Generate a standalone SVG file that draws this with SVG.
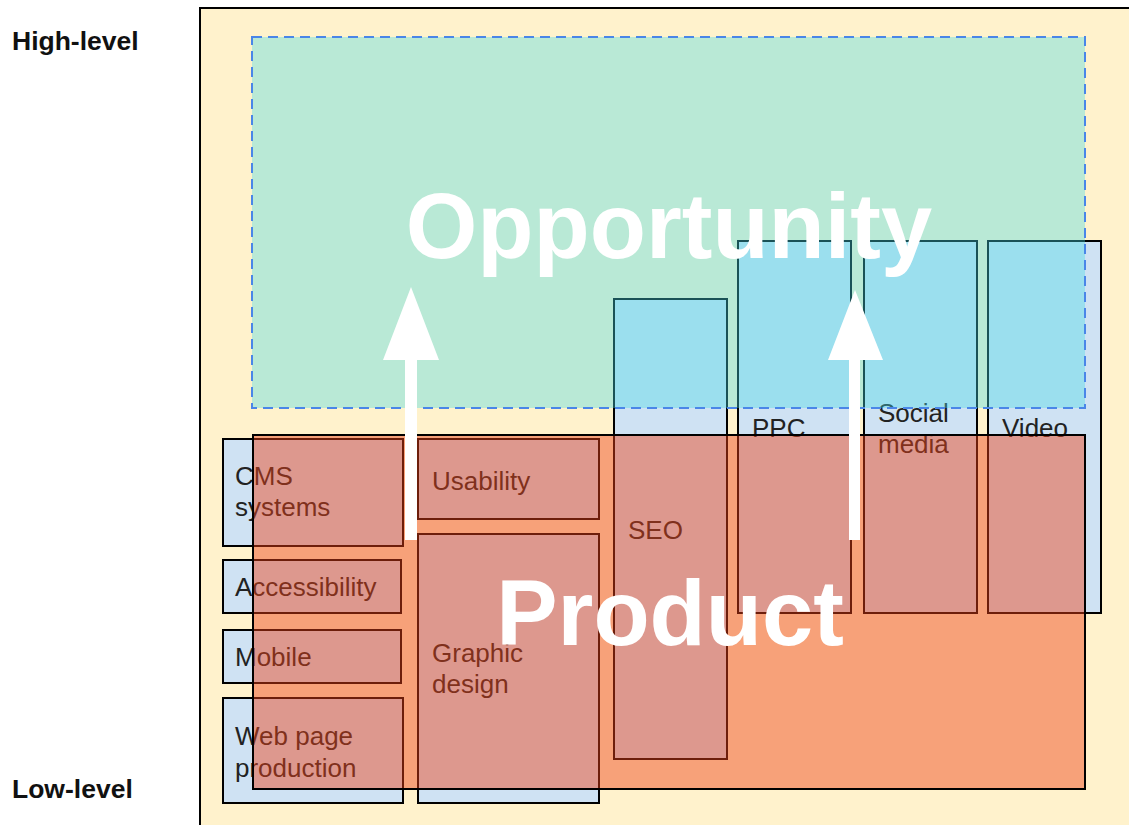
<svg xmlns="http://www.w3.org/2000/svg" width="1129" height="825" viewBox="0 0 1129 825">
<style>
.box{fill:#cfe2f3;stroke:#000;stroke-width:2}
.lbl{font-family:"Liberation Sans",Arial,sans-serif;font-size:26px;fill:#222}
.side{font-family:"Liberation Sans",Arial,sans-serif;font-size:26.5px;font-weight:bold;fill:#111}
.big{font-family:"Liberation Sans",Arial,sans-serif;font-size:92px;font-weight:bold;fill:#fff;text-anchor:middle}
.arrow{fill:#fff}
</style>
<rect x="0" y="0" width="1129" height="825" fill="#fff"/>
<g id="frame">
<rect x="200" y="8" width="940" height="830" fill="#fff2cc" stroke="#000" stroke-width="2"/>
</g>
<g id="axis-labels">
<text class="side" x="12" y="50">High-level</text>
<text class="side" x="12" y="798">Low-level</text>
</g>
<g id="cms"><rect class="box" x="223" y="439" width="180" height="107"/><text class="lbl" x="235" y="485">CMS</text><text class="lbl" x="235" y="516">systems</text></g>
<g id="accessibility"><rect class="box" x="223" y="560" width="178" height="53"/><text class="lbl" x="235" y="596">Accessibility</text></g>
<g id="mobile"><rect class="box" x="223" y="630" width="178" height="53"/><text class="lbl" x="235" y="666">Mobile</text></g>
<g id="webpage"><rect class="box" x="223" y="698" width="180" height="105"/><text class="lbl" x="235" y="745">Web page</text><text class="lbl" x="235" y="777">production</text></g>
<g id="usability"><rect class="box" x="418" y="439" width="181" height="80"/><text class="lbl" x="432" y="490">Usability</text></g>
<g id="graphic"><rect class="box" x="418" y="534" width="181" height="269"/><text class="lbl" x="432" y="662">Graphic</text><text class="lbl" x="432" y="693">design</text></g>
<g id="seo"><rect class="box" x="614" y="299" width="113" height="460"/><text class="lbl" x="628" y="539">SEO</text></g>
<g id="ppc"><rect class="box" x="738" y="241" width="113" height="372"/><text class="lbl" x="752" y="437">PPC</text></g>
<g id="social"><rect class="box" x="864" y="241" width="113" height="372"/><text class="lbl" x="878" y="422">Social</text><text class="lbl" x="878" y="453">media</text></g>
<g id="video"><rect class="box" x="988" y="241" width="113" height="372"/><text class="lbl" x="1002" y="437">Video</text></g>
<g id="opportunity">
<rect x="252" y="37" width="833" height="371" fill="rgb(68,218,230)" fill-opacity="0.375" stroke="#4a86e8" stroke-width="2" stroke-dasharray="10,6"/>
</g>
<g id="product">
<rect x="253" y="435" width="832" height="354" fill="rgb(237,66,24)" fill-opacity="0.46" stroke="#000" stroke-width="2"/>
</g>
<g id="connectors">
<path class="arrow" d="M405,540 L405,360 L383,360 L411,287 L439,360 L417,360 L417,540 Z"/>
<path class="arrow" d="M849,540 L849,360 L828,360 L855,290 L883,360 L860,360 L860,540 Z"/>
</g>
<g id="big-labels">
<text class="big" x="669" y="258">Opportunity</text>
<text class="big" x="670" y="645">Product</text>
</g>
</svg>
